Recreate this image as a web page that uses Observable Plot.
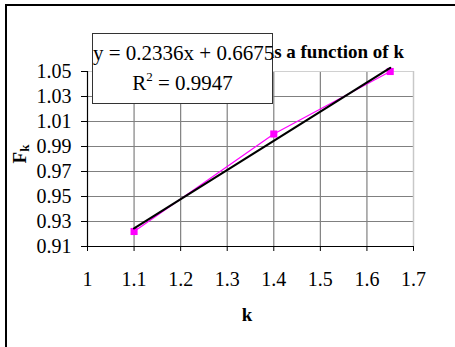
<!DOCTYPE html>
<html>
<head>
<meta charset="utf-8">
<script src="https://cdn.jsdelivr.net/npm/d3@7"></script>
<script src="https://cdn.jsdelivr.net/npm/@observablehq/plot@0.6"></script>
<style>
  html, body { margin: 0; padding: 0; background: #fff; }
  #wrap { position: relative; width: 455px; height: 347px; overflow: hidden; background: #fff; font-family: 'Liberation Serif', 'Times New Roman', serif; }
  #frame { position: absolute; left: 5px; top: 4px; width: 600px; height: 500px; border: 2px solid #000; box-sizing: border-box; }
  #chart { position: absolute; left: 0; top: 0; }
  #chart svg text { font-family: 'Liberation Serif', 'Times New Roman', serif; }
  .lbl { position: absolute; font-family: 'Liberation Serif', 'Times New Roman', serif; color: #000; white-space: nowrap; }
  #title { font-weight: bold; font-size: 19px; right: 51px; top: 41px; }
  #title sub { font-size: 13px; }
  #xlabel { font-weight: bold; font-size: 19px; left: 247px; top: 304px; transform: translateX(-50%); }
  #ylabel { font-weight: bold; font-size: 19px; left: 21px; top: 154px; transform: translate(-50%, -50%) rotate(-90deg); }
  #ylabel sub { font-size: 13px; vertical-align: -3px; }
  #eqbox { position: absolute; left: 92px; top: 33px; width: 181px; height: 71px; box-sizing: border-box; border: 1px solid #333; background: #fff; font-size: 21px; text-align: center; line-height: 30px; padding-top: 4px; }
  #eqbox sup { font-size: 13px; vertical-align: 9px; line-height: 0; }
</style>
</head>
<body>
<div id="wrap">
  <div id="frame"></div>
  <div id="chart"></div>
  <div class="lbl" id="title">F<sub>k</sub> as a function of k</div>
  <div class="lbl" id="xlabel">k</div>
  <div class="lbl" id="ylabel">F<sub>k</sub></div>
  <div class="lbl" id="eqbox">y = 0.2336x + 0.6675<br>R<sup>2</sup> = 0.9947</div>
</div>
<script>
// Data
const kValues = [1.1, 1.4, 1.65];
const fkValues = [0.922, 1.0, 1.05];
// Trendline (linear fit shown on chart)
const trendSlope = 0.2336;
const trendIntercept = 0.6675;
// Ticks
const xTicks = [1, 1.1, 1.2, 1.3, 1.4, 1.5, 1.6, 1.7];
const yTicks = [0.91, 0.93, 0.95, 0.97, 0.99, 1.01, 1.03, 1.05];

const data = kValues.map((k, i) => ({k, f: fkValues[i]}));
const kMin = d3.min(kValues), kMax = d3.max(kValues);
const trend = [kMin, kMax].map(k => ({k, f: trendSlope * k + trendIntercept}));

const xInner = xTicks.slice(1, -1);
const yInner = yTicks.slice(1, -1);
const serif = "'Liberation Serif', 'Times New Roman', serif";

const plot = Plot.plot({
  width: 455,
  height: 347,
  marginLeft: 87,
  marginRight: 42,
  marginTop: 71,
  marginBottom: 101,
  style: { fontFamily: serif, fontSize: "20px", background: "transparent", color: "#000", overflow: "visible" },
  x: { domain: [1, 1.7], label: null },
  y: { domain: [0.91, 1.05], label: null },
  marks: [
    Plot.ruleX(xInner, {stroke: "#808080", strokeWidth: 1.2}),
    Plot.ruleY(yInner, {stroke: "#808080", strokeWidth: 1.2}),
    Plot.ruleX([xTicks[xTicks.length - 1]], {stroke: "#c8c8c8", strokeWidth: 1.5}),
    Plot.ruleY([yTicks[yTicks.length - 1]], {stroke: "#d0d0d0", strokeWidth: 1}),
    Plot.ruleY([yTicks[0]], {stroke: "#000", strokeWidth: 1.2}),
    Plot.ruleX([xTicks[0]], {stroke: "#000", strokeWidth: 1.2}),
    Plot.axisX({ticks: xTicks, tickFormat: d => String(d), tickSize: 5, tickPadding: 20, stroke: "#000", strokeOpacity: 1, fontSize: 20, fontFamily: serif, label: null}),
    Plot.axisY({ticks: yTicks, tickFormat: ".2f", tickSize: 6, tickPadding: 10, stroke: "#000", strokeOpacity: 1, fontSize: 20, fontFamily: serif, label: null}),
    Plot.line(data, {x: "k", y: "f", stroke: "#ff00ff", strokeWidth: 1.2}),
    Plot.dot(data, {x: "k", y: "f", symbol: "square", r: 4, fill: "#ff00ff", stroke: "none"}),
    Plot.line(trend, {x: "k", y: "f", stroke: "#000", strokeWidth: 2.2})
  ]
});
document.getElementById("chart").appendChild(plot);
</script>
</body>
</html>
